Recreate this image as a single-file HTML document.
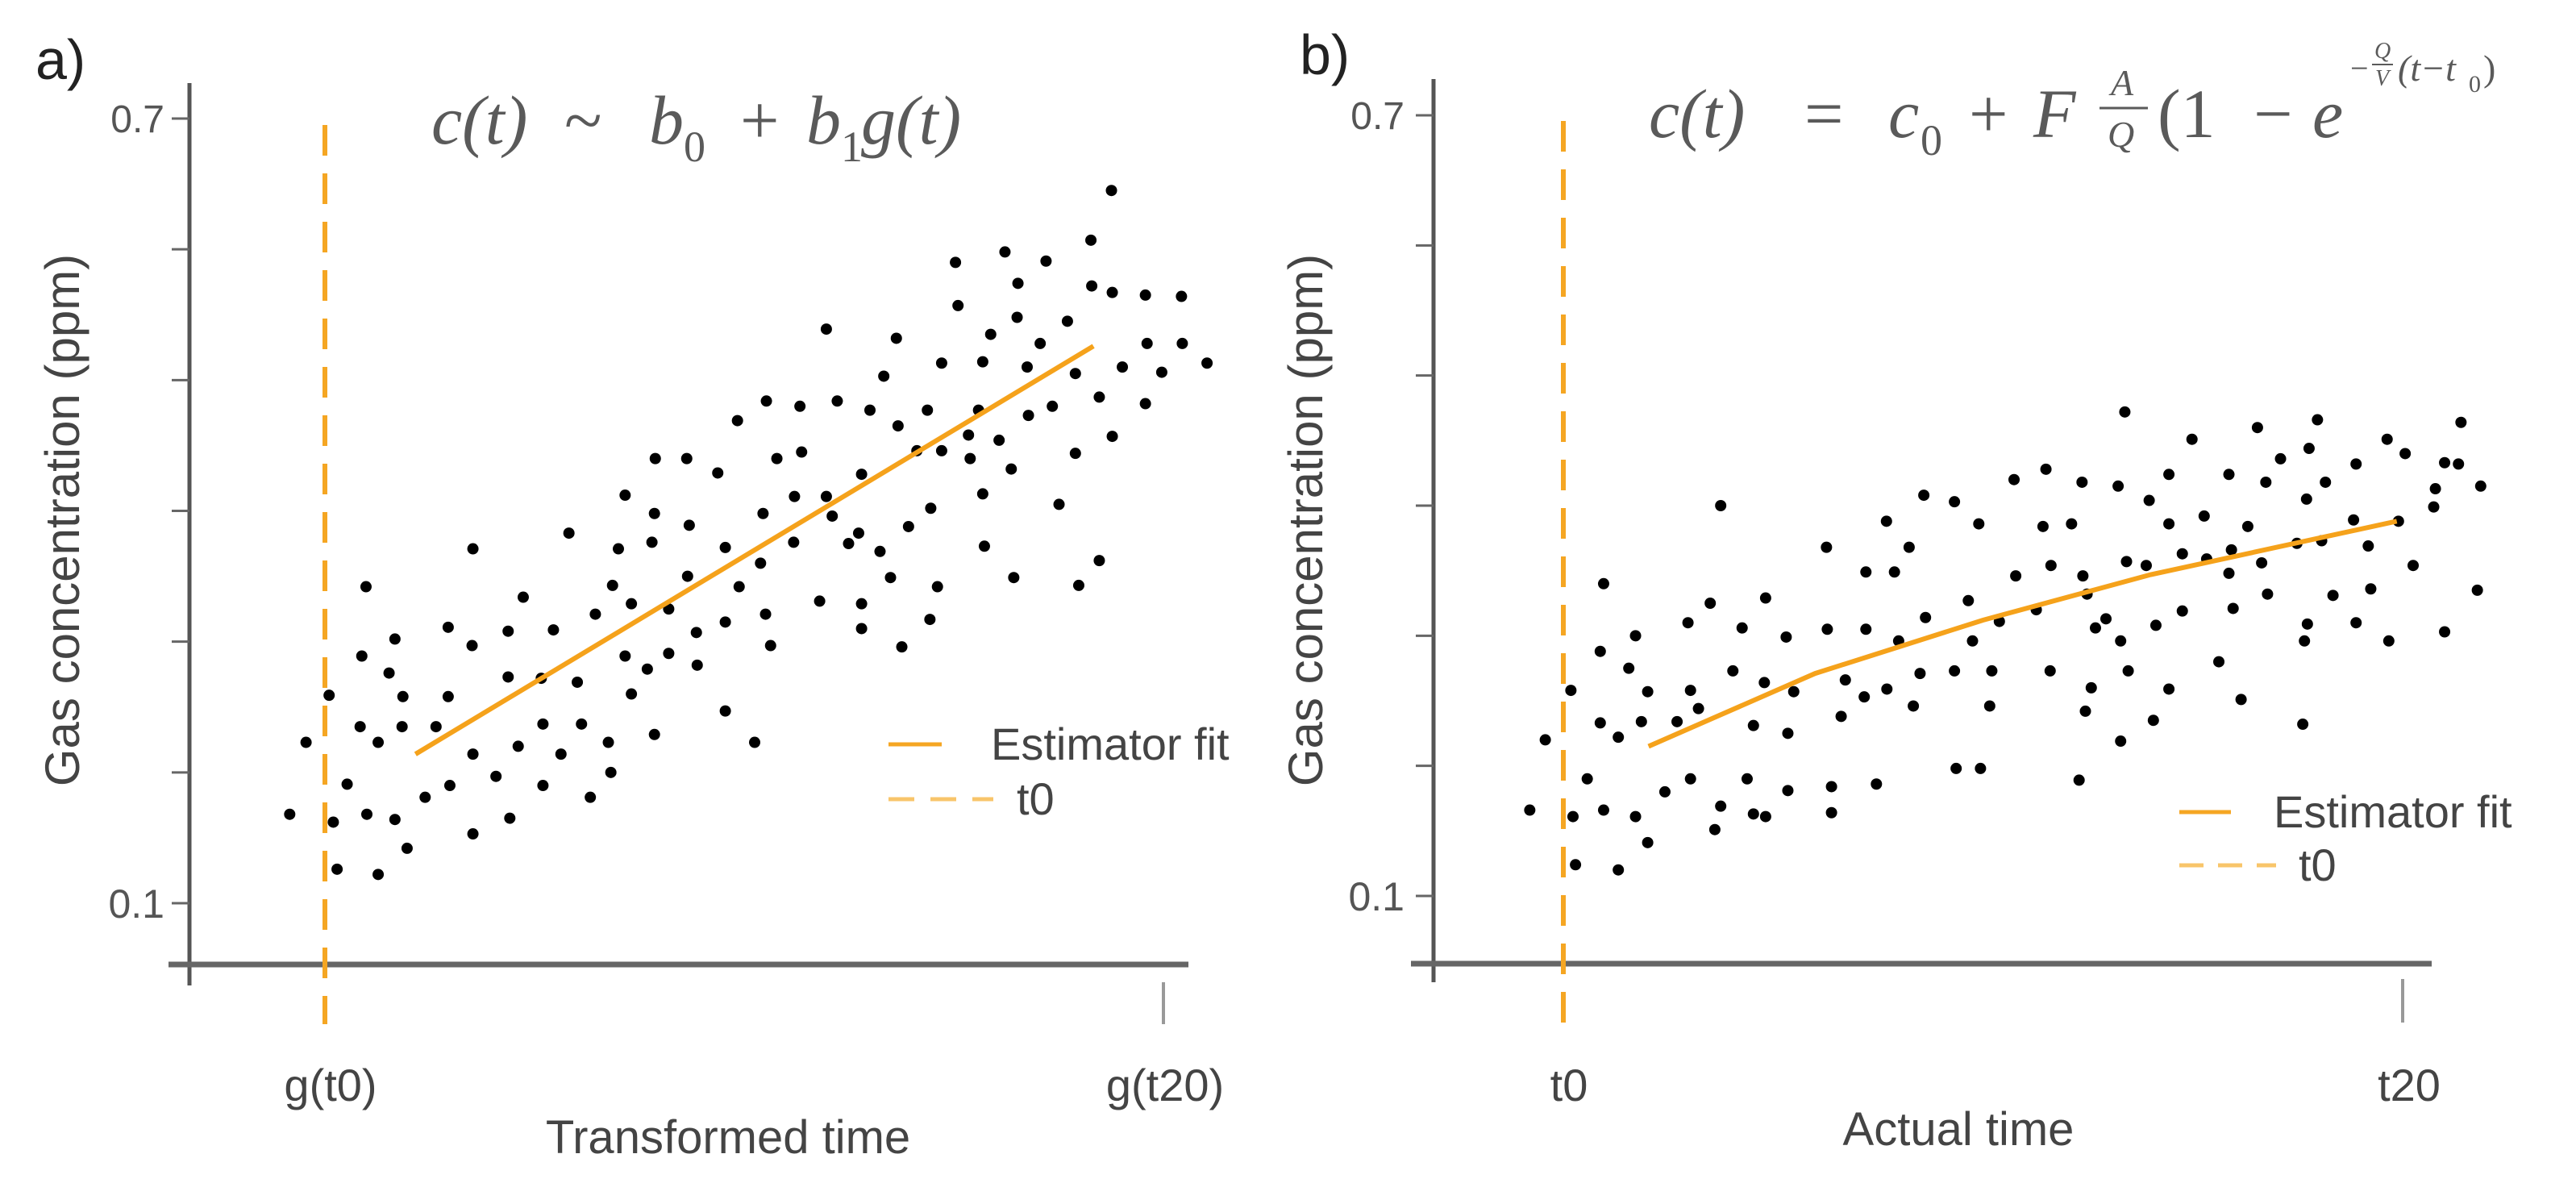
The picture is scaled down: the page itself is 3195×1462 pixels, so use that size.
<!DOCTYPE html>
<html><head><meta charset="utf-8"><style>
html,body{margin:0;padding:0;background:#fff;}
svg{display:block;}
text{font-family:"Liberation Sans",sans-serif;}
.f{font-family:"Liberation Serif",serif;font-style:italic;fill:#5a5a5a;}
.n{font-family:"Liberation Serif",serif;fill:#5a5a5a;}
</style></head><body>
<svg id="chart" width="3195" height="1462" viewBox="0 0 3195 1462" xmlns="http://www.w3.org/2000/svg">
<rect width="3195" height="1462" fill="#fff"/>
<g id="pa">
 <text x="44" y="98" font-size="70" fill="#222">a)</text>
 <line x1="235" y1="103" x2="235" y2="1222" stroke="#555" stroke-width="5"/>
 <line x1="209" y1="1196" x2="1474" y2="1196" stroke="#666" stroke-width="7"/>
 <text x="204" y="164" font-size="48" fill="#555" text-anchor="end">0.7</text>
 <text x="204" y="1138" font-size="50" fill="#555" text-anchor="end">0.1</text>
 <line x1="403" y1="1236" x2="403" y2="1270" stroke="#aaa" stroke-width="4"/>
 <line x1="1443" y1="1218" x2="1443" y2="1270" stroke="#999" stroke-width="4"/>
 <text x="410" y="1365" font-size="56" fill="#444" text-anchor="middle">g(t0)</text>
 <text x="1445" y="1365" font-size="56" fill="#444" text-anchor="middle">g(t20)</text>
 <text x="903" y="1430" font-size="58" fill="#444" text-anchor="middle">Transformed time</text>
 <text transform="translate(98,645) rotate(-90)" font-size="60" fill="#444" text-anchor="middle">Gas concentration (ppm)</text>
 <g>
  <text class="f" x="535" y="178" font-size="86">c(t)</text>
  <text class="n" x="700" y="178" font-size="86">~</text>
  <text class="f" x="805" y="178" font-size="86">b</text>
  <text class="n" x="848" y="200" font-size="54">0</text>
  <text class="n" x="918" y="178" font-size="86">+</text>
  <text class="f" x="1000" y="178" font-size="86">b</text>
  <text class="n" x="1043" y="200" font-size="54">1</text>
  <text class="f" x="1068" y="178" font-size="86">g(t)</text>
 </g>
 <line x1="1102" y1="923" x2="1168" y2="923" stroke="#f5a623" stroke-width="5"/>
 <text x="1229" y="942" font-size="56" fill="#444">Estimator fit</text>
 <line x1="1102" y1="991" x2="1232" y2="991" stroke="#f8c56a" stroke-width="5" stroke-dasharray="32,20"/>
 <text x="1261" y="1010" font-size="56" fill="#444">t0</text>
</g>
<g id="pb">
 <text x="1612" y="92" font-size="70" fill="#222">b)</text>
 <line x1="1778" y1="98" x2="1778" y2="1218" stroke="#555" stroke-width="5"/>
 <line x1="1750" y1="1195" x2="3016" y2="1195" stroke="#666" stroke-width="7"/>
 <text x="1742" y="160" font-size="48" fill="#555" text-anchor="end">0.7</text>
 <text x="1742" y="1129" font-size="50" fill="#555" text-anchor="end">0.1</text>
 <line x1="1939" y1="1236" x2="1939" y2="1268" stroke="#aaa" stroke-width="4"/>
 <line x1="2980" y1="1214" x2="2980" y2="1268" stroke="#999" stroke-width="4"/>
 <text x="1946" y="1365" font-size="56" fill="#444" text-anchor="middle">t0</text>
 <text x="2988" y="1365" font-size="56" fill="#444" text-anchor="middle">t20</text>
 <text x="2429" y="1420" font-size="58" fill="#444" text-anchor="middle">Actual time</text>
 <text transform="translate(1640,645) rotate(-90)" font-size="60" fill="#444" text-anchor="middle">Gas concentration (ppm)</text>
 <g>
  <text class="f" x="2045" y="170" font-size="86">c(t)</text>
  <text class="n" x="2238" y="170" font-size="86">=</text>
  <text class="f" x="2342" y="170" font-size="86">c</text>
  <text class="n" x="2382" y="192" font-size="54">0</text>
  <text class="n" x="2442" y="170" font-size="86">+</text>
  <text class="f" x="2522" y="170" font-size="86">F</text>
  <text class="f" x="2618" y="118" font-size="46">A</text>
  <line x1="2604" y1="134" x2="2664" y2="134" stroke="#5a5a5a" stroke-width="3"/>
  <text class="f" x="2614" y="182" font-size="46">Q</text>
  <text class="n" x="2676" y="170" font-size="86">(1</text>
  <text class="n" x="2795" y="170" font-size="86">−</text>
  <text class="f" x="2868" y="170" font-size="86">e</text>
  <text class="n" x="2915" y="98" font-size="40">−</text>
  <text class="f" x="2945" y="72" font-size="28">Q</text>
  <line x1="2942" y1="80" x2="2968" y2="80" stroke="#5a5a5a" stroke-width="2"/>
  <text class="f" x="2946" y="106" font-size="28">V</text>
  <text class="f" x="2974" y="100" font-size="46">(t−t</text>
  <text class="n" x="3062" y="114" font-size="30">0</text>
  <text class="n" x="3080" y="100" font-size="46">)</text>
 </g>
 <line x1="2703" y1="1007" x2="2767" y2="1007" stroke="#f5a623" stroke-width="5"/>
 <text x="2820" y="1026" font-size="56" fill="#444">Estimator fit</text>
 <line x1="2703" y1="1073" x2="2823" y2="1073" stroke="#f8c56a" stroke-width="5" stroke-dasharray="30,18"/>
 <text x="2851" y="1092" font-size="56" fill="#444">t0</text>
</g>
</svg>
<script>
const yTicks = [0.1,0.2,0.3,0.4,0.5,0.6,0.7];
const t0Value = 0;
const t20Value = 20;
const aX = [-0.84,-0.45,0.10,0.20,0.29,0.53,0.84,0.88,0.98,1.0,1.27,1.27,1.53,1.67,1.67,1.86,1.84,1.96,2.39,2.65,2.94,2.94,2.98,3.51,3.53,3.53,3.53,4.08,4.37,4.37,4.41,4.61,4.73,5.16,5.20,5.20,5.45,5.63,5.82,6.02,6.12,6.33,6.45,6.76,6.82,6.86,7.0,7.16,7.16,7.31,7.31,7.69,7.80,7.86,7.86,7.88,8.20,8.20,8.63,8.69,8.65,8.86,8.88,9.37,9.55,9.55,9.55,9.84,9.88,10.25,10.39,10.45,10.51,10.53,10.63,10.78,11.18,11.20,11.33,11.37,11.80,11.96,11.96,12.10,12.22,12.49,12.73,12.80,12.80,12.80,13.0,13.24,13.33,13.49,13.63,13.67,13.76,13.92,14.12,14.37,14.43,14.45,14.61,14.71,14.71,15.04,15.10,15.35,15.39,15.59,15.69,15.69,15.73,15.88,16.08,16.22,16.37,16.43,16.51,16.53,16.75,16.78,17.06,17.20,17.35,17.51,17.71,17.90,17.90,17.98,18.27,18.29,18.47,18.47,18.76,18.78,18.78,19.02,19.57,19.57,19.61,19.96,20.43,20.45,21.04];
const aY = [.168,.223,.259,.162,.126,.191,.235,.289,.342,.168,.223,.122,.276,.302,.164,.258,.235,.142,.181,.235,.311,.258,.190,.297,.371,.214,.153,.197,.308,.273,.165,.220,.334,.272,.237,.190,.309,.214,.383,.269,.237,.181,.321,.223,.200,.343,.371,.412,.289,.329,.260,.279,.376,.398,.229,.440,.325,.291,.440,.389,.350,.307,.282,.429,.372,.315,.247,.469,.342,.223,.360,.398,.321,.484,.297,.440,.376,.411,.480,.445,.331,.539,.411,.396,.484,.375,.383,.428,.329,.310,.477,.369,.503,.349,.532,.465,.296,.388,.446,.477,.317,.402,.342,.446,.513,.590,.557,.458,.440,.477,.514,.413,.373,.535,.454,.598,.432,.349,.548,.574,.510,.473,.528,.591,.480,.405,.545,.505,.444,.343,.607,.572,.487,.362,.645,.567,.457,.510,.565,.482,.528,.506,.564,.528,.513];
const aFitX = [2.16,18.33];
const aFitY = [0.214,0.526];
const bX = [-0.80,-0.43,0.18,0.23,0.29,0.57,0.88,0.88,0.96,0.96,1.31,1.31,1.56,1.72,1.72,1.86,2.01,2.01,2.42,2.71,2.97,3.03,3.03,3.22,3.50,3.61,3.75,3.75,4.04,4.26,4.38,4.53,4.53,4.79,4.82,4.82,5.31,5.35,5.35,5.49,6.27,6.29,6.39,6.39,6.62,6.72,7.21,7.21,7.17,7.46,7.70,7.71,7.89,7.99,8.24,8.34,8.50,8.59,8.63,9.32,9.32,9.36,9.65,9.75,9.90,9.94,10.16,10.21,10.39,10.74,10.78,11.27,11.43,11.50,11.60,11.62,12.11,12.29,12.36,12.38,12.44,12.48,12.58,12.68,12.93,13.22,13.28,13.28,13.38,13.42,13.46,13.89,13.96,14.06,14.12,14.43,14.43,14.43,14.75,14.75,14.98,15.27,15.33,15.62,15.86,15.86,15.92,15.96,16.15,16.31,16.54,16.64,16.74,16.78,17.09,17.48,17.62,17.66,17.71,17.73,17.77,17.97,18.07,18.16,18.34,18.83,18.89,18.89,19.18,19.24,19.63,19.67,19.90,20.06,20.25,20.74,20.78,21.00,21.00,21.33,21.39,21.78,21.86];
const bY = [.166,.220,.258,.161,.124,.190,.233,.288,.340,.166,.222,.120,.275,.300,.161,.234,.257,.141,.180,.234,.310,.258,.190,.244,.325,.151,.400,.169,.273,.306,.190,.231,.163,.264,.329,.161,.299,.225,.181,.257,.368,.305,.184,.164,.238,.266,.305,.349,.253,.186,.388,.259,.349,.296,.368,.246,.271,.408,.314,.273,.403,.198,.327,.296,.386,.198,.246,.273,.311,.420,.346,.320,.384,.428,.273,.354,.386,.189,.418,.346,.242,.332,.260,.306,.313,.415,.296,.219,.472,.357,.273,.354,.404,.235,.308,.424,.386,.259,.363,.319,.451,.392,.359,.280,.424,.348,.366,.321,.251,.384,.460,.356,.418,.332,.436,.371,.232,.296,.405,.309,.444,.466,.373,.418,.331,.389,.432,.310,.369,.336,.451,.296,.388,.440,.354,.399,.413,.433,.303,.432,.464,.335,.415];
const bFitX = [2.03,6,10,14,19.86];
const bFitY = [0.215,0.271,0.312,0.347,0.388];

const NS = "http://www.w3.org/2000/svg";
function mk(tag, attrs, parent){ const e=document.createElementNS(NS,tag); for(const k in attrs) e.setAttribute(k,attrs[k]); parent.appendChild(e); return e; }

function drawPanel(g, ax, xs, ys, fx, fy, tag){
  const sx = v => ax.x0 + (v - t0Value) * (ax.x20 - ax.x0) / (t20Value - t0Value);
  const sy = v => ax.y01 + (v - 0.1) * (ax.y07 - ax.y01) / 0.6;
  yTicks.forEach(t=>{
    const l = mk('line',{x1:ax.axisX-22,x2:ax.axisX,y1:sy(t),y2:sy(t),stroke:'#666','stroke-width':3},g);
    
    
  });
  const d = mk('line',{x1:sx(t0Value),x2:sx(t0Value),y1:ax.dashTop,y2:ax.dashBot,stroke:'#f5a623','stroke-width':6,'stroke-dasharray':'38,22'},g);
  
  
  xs.forEach((v,i)=>{
    const c = mk('circle',{cx:sx(v),cy:sy(ys[i]),r:7,fill:'#000'},g);
    
    
  });
  const p = mk('polyline',{points:fx.map((v,i)=>sx(v)+','+sy(fy[i])).join(' '),fill:'none',stroke:'#f5a21b','stroke-width':6},g);
  
  
}
drawPanel(document.getElementById('pa'),{x0:403,x20:1443,y01:1120,y07:147,axisX:235,dashTop:155,dashBot:1270},aX,aY,aFitX,aFitY,'a');
drawPanel(document.getElementById('pb'),{x0:1939,x20:2980,y01:1111,y07:143,axisX:1778,dashTop:150,dashBot:1268},bX,bY,bFitX,bFitY,'b');
</script>
</body></html>
